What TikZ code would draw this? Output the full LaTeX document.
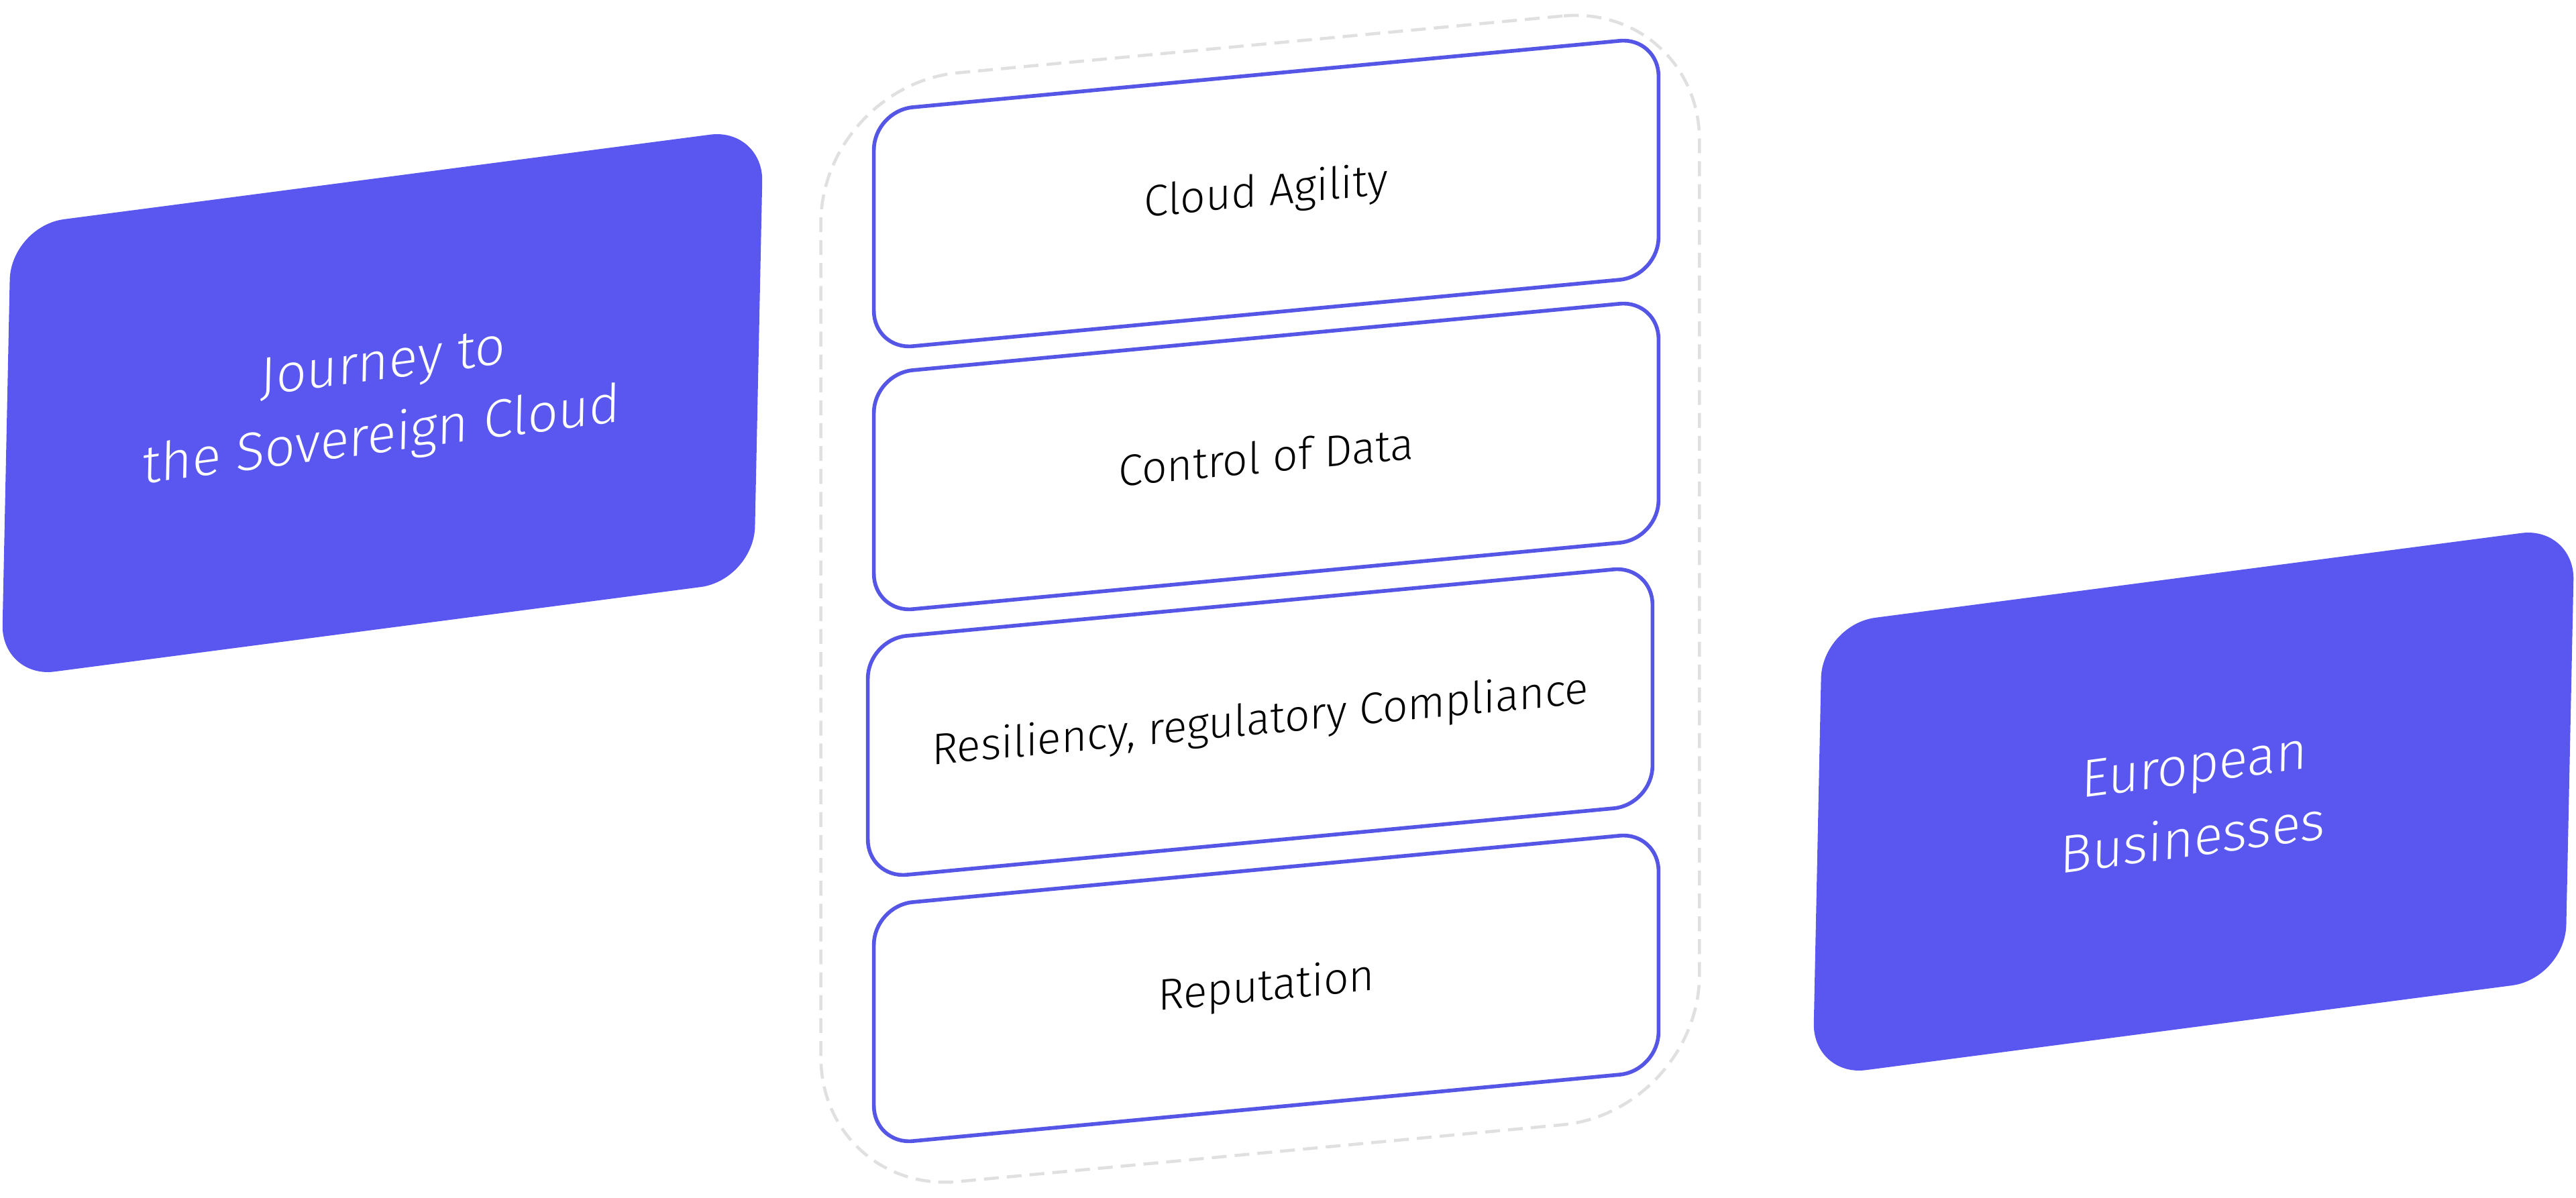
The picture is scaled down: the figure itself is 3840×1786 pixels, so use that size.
\documentclass[tikz,border=0pt]{standalone}
\usepackage{xcolor}
\usepackage{fontspec}
\setmainfont{Fira Sans}[UprightFont=* Light]
\definecolor{sovblue}{HTML}{5957F0}
\definecolor{sovline}{HTML}{5656E6}
\definecolor{sovdash}{HTML}{E0E0E0}
\tikzset{
	bigcard/.style={
		cm={1,0.131,0.021,1,(0,0)},
		fill=sovblue, text=white, rounded corners=0.8cm,
		minimum width=11.21cm, minimum height=6.74cm, inner sep=0pt,
		align=center, font=\fontsize{22.7}{31}\selectfont},
	pillar/.style={
		cm={1,0.094,0,1,(0,0)},
		draw=sovline, line width=1.6pt, text=black, rounded corners=0.58cm,
		minimum width=11.69cm, minimum height=3.56cm, inner sep=0pt,
		font=\fontsize{18.7}{22}\selectfont},
	pillarframe/.style={
		cm={1,0.094,0,1,(0,0)},
		draw=sovdash, line width=1.3pt, dash pattern=on 6.3pt off 3.4pt,
		rounded corners=2.05cm,
		minimum width=13.09cm, minimum height=16.52cm, inner sep=0pt}
}
\begin{document}
\begin{tikzpicture}[x=0.01cm,y=0.01cm]
	\useasboundingbox (0,0) rectangle (3840,-1786);
	
	% frame round the four pillars
	\node[pillarframe] (frame) at (1878.5,-892.7) {};
	
	\node[bigcard] (journey) at (570,-601) {Journey to\\the Sovereign Cloud};
	\node[bigcard] (business) at (3270,-1195) {European\\Businesses};
	
	\node[pillar] (agility) at (1887.5,-288.5) {Cloud Agility};
	\node[pillar] (control) at (1887.5,-680.5) {Control of Data};
	\node[pillar] (resiliency) at (1878.5,-1076.5) {Resiliency, regulatory Compliance};
	\node[pillar] (reputation) at (1887.5,-1473.5) {Reputation};
\end{tikzpicture}
\end{document}
